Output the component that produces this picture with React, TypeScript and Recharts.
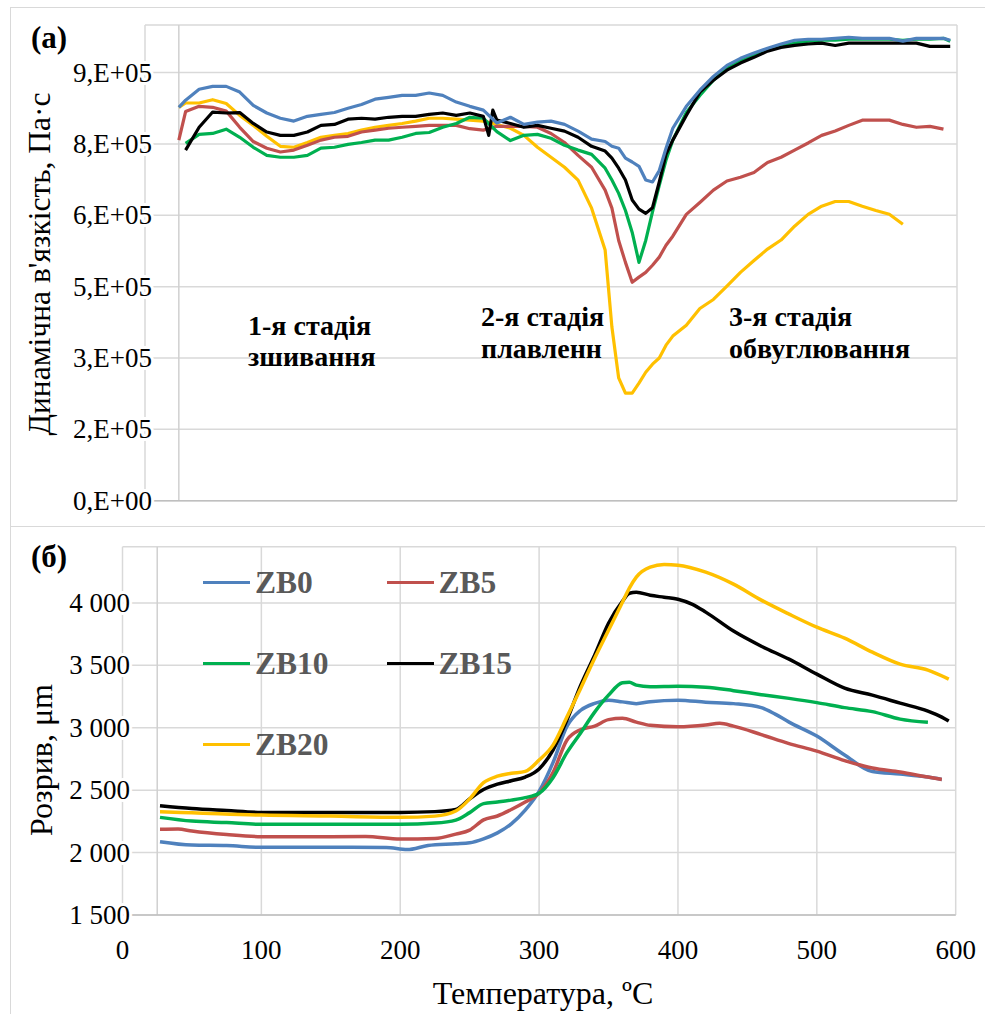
import { LineChart, Line, XAxis, YAxis, CartesianGrid, ReferenceLine, Legend } from "recharts";

// (а) dynamic viscosity, thousand Pa·s
const viscTemp = [25, 30, 40, 50, 60, 70, 80, 90, 100, 110, 120, 130, 140, 150, 160, 170, 180, 190, 200, 210, 220, 230, 240, 250, 254, 257, 260, 270, 280, 290, 300, 310, 320, 330, 340, 345, 350, 355, 360, 365, 370, 375, 380, 385, 390, 400, 410, 420, 430, 440, 450, 460, 470, 480, 490, 500, 510, 520, 530, 540, 550, 560, 570, 580, 590, 595];
const viscZB0 = [827, 842, 865, 871, 871, 859, 831, 815, 804, 798, 808, 812, 816, 825, 833, 844, 848, 852, 852, 857, 852, 838, 829, 821, null, null, 794, 806, 791, 796, 798, 791, 777, 760, 755, 745, 741, 720, 712, 703, 674, 670, 694, 741, 783, 829, 863, 892, 915, 930, 941, 951, 960, 968, 970, 970, 972, 974, 972, 972, 972, 966, 972, 972, 972, 968];
const viscZB5 = [758, 818, 829, 827, 819, 785, 755, 741, 733, 737, 747, 758, 764, 766, 775, 779, 783, 785, 787, 789, 789, 789, 782, 779, null, null, 787, 787, 787, 785, 772, 753, 726, 701, 653, 615, 547, 501, 459, 470, 480, 495, 512, 537, 556, 602, 627, 653, 672, 680, 690, 711, 722, 737, 752, 768, 777, 789, 800, 800, 800, 791, 785, 787, 781, null];
const viscZB10 = [null, 751, 770, 772, 781, 764, 743, 726, 722, 722, 726, 741, 743, 749, 753, 758, 758, 764, 772, 774, 785, 793, 806, 804, null, null, 776, 757, 768, 770, 762, 747, 737, 728, 699, 674, 646, 610, 564, 501, 547, 607, 663, 716, 758, 816, 852, 884, 909, 926, 938, 947, 955, 962, 966, 968, 968, 970, 970, 970, 970, 968, 970, 970, 972, 966];
const viscZB15 = [null, 737, 785, 817, 815, 816, 793, 775, 768, 768, 775, 789, 791, 802, 804, 802, 806, 808, 808, 812, 815, 810, 815, 808, 768, 821, 800, 793, 785, 789, 783, 777, 764, 745, 735, 720, 699, 674, 632, 613, 604, 616, 670, 728, 758, 810, 859, 884, 905, 920, 932, 945, 953, 957, 960, 962, 957, 962, 962, 962, 962, 962, 962, 955, 955, 955];
const viscZB20 = [827, 836, 836, 843, 835, 810, 789, 766, 745, 743, 753, 764, 768, 772, 779, 785, 789, 793, 798, 804, 804, 802, 800, 798, null, null, 791, 783, 768, 743, 722, 701, 674, 615, 527, 365, 258, 226, 226, 247, 270, 287, 300, 327, 346, 369, 404, 423, 451, 480, 505, 529, 548, 577, 602, 619, 629, 629, 619, 610, 602, 581, null, null, null, null];

// (б) break, µm
const breakTemp = [27, 40, 50, 75, 100, 150, 175, 190, 200, 205, 220, 225, 240, 250, 260, 270, 280, 290, 300, 310, 320, 330, 340, 350, 360, 365, 370, 380, 390, 400, 410, 420, 430, 440, 460, 470, 480, 500, 520, 540, 560, 580, 590, 595];
const breakZB0 = [2087, null, 2060, 2056, 2042, 2042, null, 2040, null, 2024, 2056, null, 2070, 2078, 2110, 2158, 2230, 2340, 2490, 2720, 3010, 3140, 3195, 3221, 3207, null, 3193, 3209, null, 3221, null, 3205, null, 3193, 3161, 3109, 3045, 2933, 2781, 2649, 2629, 2605, 2586, null];
const breakZB5 = [2186, 2188, 2172, 2144, 2127, 2127, 2128, null, 2108, null, null, 2112, 2148, 2180, 2262, 2293, 2345, 2405, 2475, 2640, 2900, 2985, 3013, 3065, 3075, null, 3045, 3019, null, 3007, null, 3021, 3035, 3013, 2945, null, 2873, 2813, 2737, 2677, 2645, 2605, 2586, null];
const breakZB10 = [2282, null, 2252, 2240, 2226, 2226, null, null, 2226, null, null, 2236, 2260, 2320, 2392, 2405, 2420, 2440, 2475, 2600, 2800, 2960, 3125, 3261, 3360, 3365, 3341, 3329, null, 3333, null, 3325, null, 3297, 3265, null, 3235, 3201, 3161, 3129, 3069, 3043, null, null];
const breakZB15 = [2375, null, 2353, 2337, 2322, 2322, null, null, 2322, null, null, 2328, 2345, 2430, 2505, 2548, 2575, 2605, 2670, 2821, 3061, 3341, 3581, 3837, 4013, 4077, 4085, 4061, 4045, 4029, 3990, 3926, null, 3774, 3653, null, 3549, 3429, 3317, 3261, 3197, 3133, 3085, 3053];
const breakZB20 = [2327, null, 2319, null, 2300, 2292, null, null, 2282, null, null, 2292, 2333, 2430, 2560, 2612, 2635, 2650, 2741, 2861, 3085, 3317, 3557, 3781, 4005, 4118, 4206, 4286, 4307, 4302, null, 4246, null, 4150, 4022, null, 3910, 3805, 3717, 3605, 3509, 3461, null, 3389];

const seriesNames = ["ZB0", "ZB5", "ZB10", "ZB15", "ZB20"];
const seriesColors = ["#4F81BD", "#C0504D", "#00B050", "#000000", "#FFC000"];
const tempTicks = [0, 100, 200, 300, 400, 500, 600];
const viscTicks = [0, 150, 300, 450, 600, 750, 900];
const breakTicks = [1500, 2000, 2500, 3000, 3500, 4000];

const viscSeries = [viscZB0, viscZB5, viscZB10, viscZB15, viscZB20];
const breakSeries = [breakZB0, breakZB5, breakZB10, breakZB15, breakZB20];

const viscData = viscTemp.map((t, i) => {
    const row: any = { t };
    seriesNames.forEach((n, k) => (row[n] = viscSeries[k][i]));
    return row;
});
const breakData = breakTemp.map((t, i) => {
    const row: any = { t };
    seriesNames.forEach((n, k) => (row[n] = breakSeries[k][i]));
    return row;
});

const FONT = '"Liberation Serif", "DejaVu Serif", serif';
const GRID = "#d9d9d9";
const AXIS = "#bfbfbf";

const fmtVisc = (v: number) => (v === 0 ? "0,E+00" : `${Math.round(v / 100)},E+05`);
const fmtBreak = (v: number) => `${Math.floor(v / 1000)} ${String(v % 1000).padStart(3, "0")}`;

const ViscTick = (props: any) => (
    <text x={152} y={props.y} textAnchor="end" dominantBaseline="central" fill="#000"
        stroke="#fff" strokeWidth={6} paintOrder="stroke" style={{ fontFamily: FONT, fontSize: 27 }}>
        {fmtVisc(props.payload.value)}
    </text>
);

const BreakTick = (props: any) => (
    <text x={130} y={props.y} textAnchor="end" dominantBaseline="central" fill="#000"
        stroke="#fff" strokeWidth={6} paintOrder="stroke" style={{ fontFamily: FONT, fontSize: 27 }}>
        {fmtBreak(props.payload.value)}
    </text>
);

const TempTick = (props: any) => (
    <text x={props.x} y={423} textAnchor="middle" dominantBaseline="central" fill="#000"
        style={{ fontFamily: FONT, fontSize: 27 }}>
        {props.payload.value}
    </text>
);

const renderLegend = (props: any) => {
    const items = [...(props.payload || [])].sort(
        (a: any, b: any) => seriesNames.indexOf(a.value) - seriesNames.indexOf(b.value)
    );
    return (
        <div style={{ position: "relative", width: 400, height: 240 }}>
            {items.map((it: any, i: number) => (
                <div key={it.value} style={{
                    position: "absolute", left: (i % 2) * 183.5, top: Math.floor(i / 2) * 81,
                    display: "flex", alignItems: "center", height: 34,
                }}>
                    <span style={{ display: "inline-block", width: 47, height: 3, background: it.color, marginRight: 5 }} />
                    <span style={{ fontSize: 31.5, fontWeight: "bold", color: "#595959", lineHeight: "34px", fontFamily: FONT }}>
                        {it.value}
                    </span>
                </div>
            ))}
        </div>
    );
};

const textAbs = (left: number, top: number, extra: any = {}) => ({
    position: "absolute" as const, left, top, fontFamily: FONT, color: "#000", whiteSpace: "nowrap" as const, ...extra,
});

// draw order for panel (а): yellow first, blue on top
const topOrder = [4, 1, 2, 3, 0];

const App = () => {
    return (
        <div style={{ position: "absolute", left: 0, top: 0, width: 985, height: 1014, overflow: "hidden", background: "#fff", fontFamily: FONT }}>
            {/* panel frames */}
            <div style={{ position: "absolute", left: 10, top: 7, width: 1000, height: 518, border: `1.5px solid ${GRID}` }} />
            <div style={{ position: "absolute", left: 10, top: 526, width: 1000, height: 600, border: `1.5px solid ${GRID}` }} />

            {/* (а) viscosity */}
            <div style={{ position: "absolute", left: 0, top: 0 }}>
                <LineChart width={985} height={527} data={viscData} margin={{ top: 25, right: 28, bottom: 22.3, left: 85 }}>
                    <CartesianGrid stroke={GRID} strokeWidth={1.5} />
                    <XAxis dataKey="t" type="number" domain={[0, 600]} ticks={tempTicks} tick={false} tickLine={false}
                        axisLine={{ stroke: AXIS, strokeWidth: 1.5 }} height={4} />
                    <YAxis type="number" domain={[0, 1000]} ticks={viscTicks} interval={0} width={60}
                        axisLine={false} tickLine={false} tick={ViscTick} />
                    <ReferenceLine x={25} stroke="#d0d0d0" strokeWidth={1.5} />
                    {topOrder.map((k) => (
                        <Line key={seriesNames[k]} dataKey={seriesNames[k]} name={seriesNames[k]} type="linear"
                            stroke={seriesColors[k]} strokeWidth={3.2} dot={false} connectNulls
                            strokeLinejoin="round" isAnimationActive={false} />
                    ))}
                </LineChart>
            </div>

            {/* (б) break */}
            <div style={{ position: "absolute", left: 0, top: 527 }}>
                <LineChart width={985} height={487} data={breakData} margin={{ top: 19.7, right: 29.3, bottom: 39, left: 62.5 }}>
                    <CartesianGrid stroke={GRID} strokeWidth={1.5} />
                    <XAxis dataKey="t" type="number" domain={[0, 600]} ticks={tempTicks} interval={0} tickLine={false}
                        axisLine={{ stroke: AXIS, strokeWidth: 1.5 }} height={60} tick={TempTick} />
                    <YAxis type="number" domain={[1500, 4450]} ticks={breakTicks} interval={0} width={60}
                        axisLine={false} tickLine={false} tick={BreakTick} allowDataOverflow />
                    <ReferenceLine x={25} stroke="#d0d0d0" strokeWidth={1.5} />
                    {seriesNames.map((n, k) => (
                        <Line key={n} dataKey={n} name={n} type="monotone" stroke={seriesColors[k]} strokeWidth={3.5}
                            dot={false} connectNulls isAnimationActive={false} />
                    ))}
                    <Legend content={renderLegend} layout="horizontal" verticalAlign="middle" align="center"
                        wrapperStyle={{ left: 203, top: 38.7, width: 400, height: 240 }} />
                </LineChart>
            </div>

            {/* panel letters */}
            <div style={textAbs(31, 20, { fontSize: 31, fontWeight: "bold", lineHeight: "36px" })}>(а)</div>
            <div style={textAbs(31, 538.7, { fontSize: 31, fontWeight: "bold", lineHeight: "36px" })}>(б)</div>

            {/* stage labels */}
            <div style={textAbs(248, 309.5, { fontSize: 28, fontWeight: "bold", lineHeight: "31.5px" })}>1-я стадія<br />зшивання</div>
            <div style={textAbs(481, 301, { fontSize: 28, fontWeight: "bold", lineHeight: "31.5px" })}>2-я стадія<br />плавленн</div>
            <div style={textAbs(729, 301, { fontSize: 28, fontWeight: "bold", lineHeight: "31.5px" })}>3-я стадія<br />обвуглювання</div>

            {/* axis titles */}
            <div style={textAbs(40, 264, { fontSize: 31.5, lineHeight: 1, transform: "translate(-50%, -50%) rotate(-90deg)" })}>
                Динамічна в'язкість, Па·с
            </div>
            <div style={textAbs(41, 760, { fontSize: 32, lineHeight: 1, transform: "translate(-50%, -50%) rotate(-90deg)" })}>
                Розрив, μm
            </div>
            <div style={textAbs(543, 993, { fontSize: 32, lineHeight: 1, transform: "translate(-50%, -50%)" })}>
                Температура, ºC
            </div>
        </div>
    );
};

export default App;
